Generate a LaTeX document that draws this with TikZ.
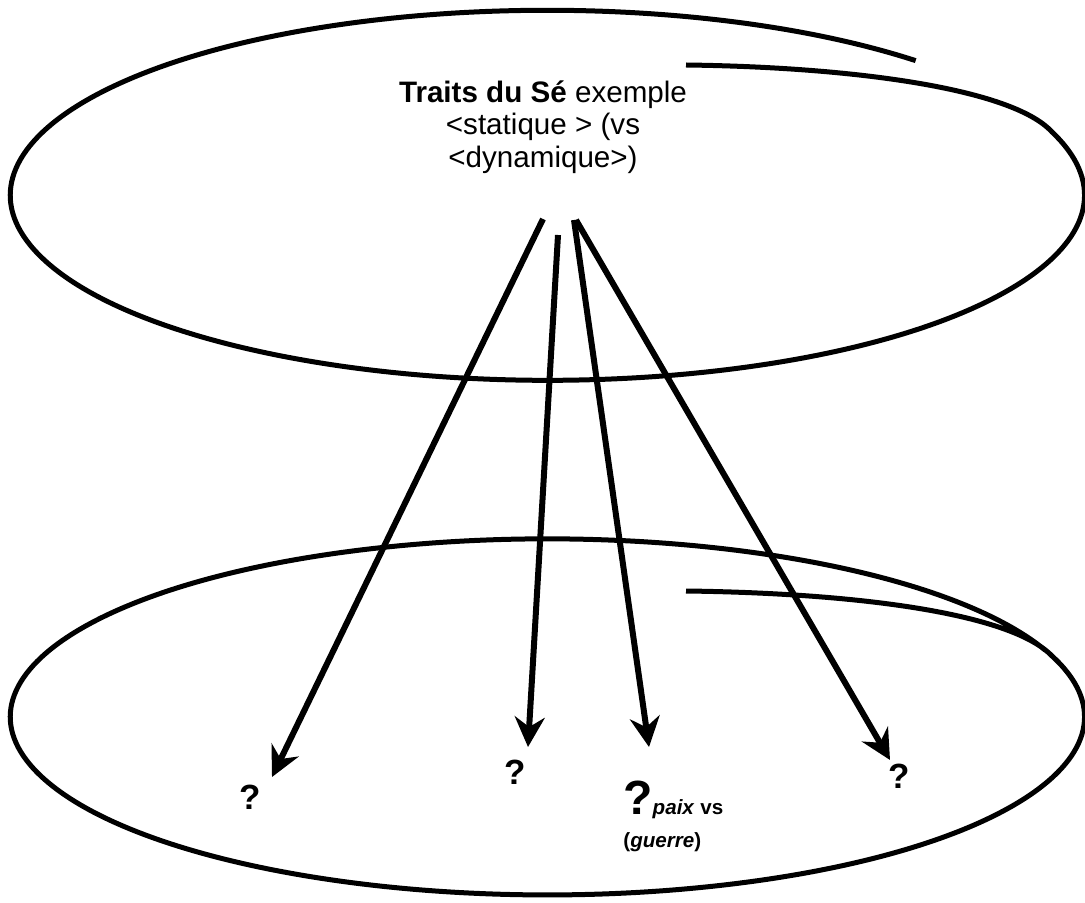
\documentclass[tikz,border=0pt]{standalone}
\usepackage{fontspec}
\setmainfont{Liberation Sans}
\usetikzlibrary{
    arrows.meta,
    positioning
}
\tikzset{
    % Loops
    loopline/.style={
        draw=black,
        line width=2.5pt
    },
    % Arrows
    arrow/.style={
        -{Stealth[length=15pt,width=15pt,inset=5pt]},
        line width=3pt,
        draw=black
    },
    % Labels
    titletext/.style={
        align=center,
        inner sep=0pt,
        font=\fontsize{14.8}{16.4}\selectfont
    },
    qmark/.style={
        inner sep=0pt,
        font=\fontsize{17.5}{17.5}\selectfont\bfseries
    },
    qlabel/.style={
        align=left,
        inner sep=0pt,
        font=\fontsize{10.3}{16.5}\selectfont\bfseries
    }
}

\begin{document}
\begin{tikzpicture}[x=0.5pt,y=-0.5pt]

    \useasboundingbox (0,0) rectangle (1085,903);

    % Top loop
    \draw[loopline] (686,65) .. controls (850,67) and (1012,88) .. (1052,132)
        arc[start angle=-20, end angle=313.3, x radius=537, y radius=185];

    % Bottom loop
    \draw[loopline] (686,591) .. controls (850,593) and (1010,612) .. (1052,656)
        arc[start angle=-20, end angle=338, x radius=537, y radius=178];

    % Title
    \node[titletext, anchor=north] (traits) at (543,80)
        {\textbf{Traits du Sé} exemple\\<statique > (vs\\<dynamique>)};

    % Question marks
    \node[qmark] (q1) at (250,797) {?};
    \node[qmark] (q2) at (515,772) {?};
    \node[qlabel, anchor=north west] (q3) at (623,781)
        {{\fontsize{24}{24}\selectfont ?}\textit{paix} vs\\(\textit{guerre})};
    \node[qmark] (q4) at (899,776) {?};

    % Arrow ends
    \coordinate (s1) at (543,219);
    \coordinate (s2) at (558,235);
    \coordinate (s3) at (574,220);
    \coordinate (s4) at (576,220);
    \coordinate (t1) at (272,777);
    \coordinate (t2) at (528,747);
    \coordinate (t3) at (649,747);
    \coordinate (t4) at (890,760);

    % Arrows
    \draw[arrow] (s1) -- (t1);
    \draw[arrow] (s2) -- (t2);
    \draw[arrow] (s3) -- (t3);
    \draw[arrow] (s4) -- (t4);

\end{tikzpicture}
\end{document}
